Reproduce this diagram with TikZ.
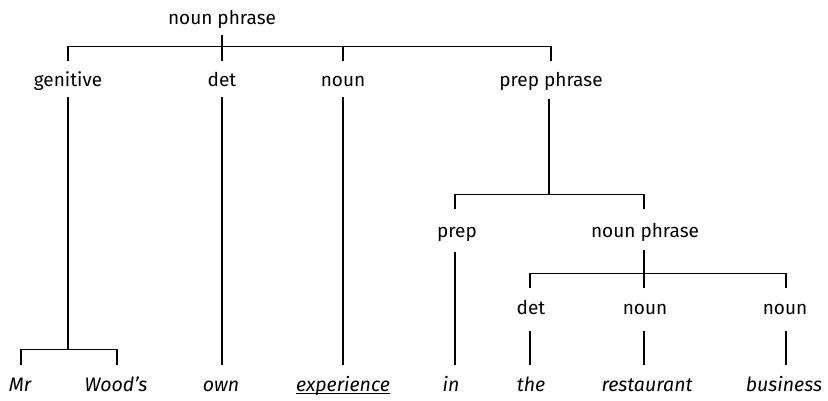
\documentclass[tikz,border=0pt]{standalone}
\usepackage{fontspec}
\setmainfont{Fira Sans}
\begin{document}
\begin{tikzpicture}[x=1pt,y=-1pt,
  lab/.style={anchor=base, inner sep=0pt, text height=13pt, text depth=4pt,
    font=\fontsize{19}{22}\selectfont},
  word/.style={lab, font=\fontsize{19.5}{22}\selectfont\itshape},
  tree/.style={line width=1.2pt, line cap=butt, line join=miter}]
\useasboundingbox (0,0) rectangle (828,401);
\fill[white] (0,0) rectangle (828,401);
% level 0
\node[lab] (np1) at (222,25) {noun phrase};
% level 1
\node[lab] (gen) at (68,87) {genitive};
\node[lab] (det1) at (222,87) {det};
\node[lab] (noun1) at (343,87) {noun};
\node[lab] (pp) at (551,87) {prep phrase};
% level 2
\node[lab] (prep) at (457,237) {prep};
\node[lab] (np2) at (645,237) {noun phrase};
% level 3
\node[lab] (det2) at (531,314) {det};
\node[lab] (noun2) at (645,314) {noun};
\node[lab] (noun3) at (785,314) {noun};
% words
\node[word] (mr) at (20,391) {Mr};
\node[word] (woods) at (116,391) {Wood’s};
\node[word] (own) at (221,391) {own};
\node[word] (exp) at (343,391) {experience};
\node[word] (in) at (451,391) {in};
\node[word] (the) at (531,391) {the};
\node[word] (rest) at (647,391) {restaurant};
\node[word] (bus) at (784,391) {business};
\draw[line width=0.8pt] ([yshift=-2pt]exp.base west) -- ([yshift=-2pt]exp.base east);
% bracket levels
\coordinate (barA) at ([yshift=27pt]det1.north);
\coordinate (dropA) at ([yshift=13pt]det1.north);
\coordinate (barG) at ([yshift=28pt]mr.north);
\coordinate (dropG) at ([yshift=13pt]mr.north);
\coordinate (barP) at ([yshift=29pt]prep.north);
\coordinate (dropP) at ([yshift=15pt]prep.north);
\coordinate (barN) at ([yshift=27pt]det2.north);
\coordinate (dropN) at ([yshift=13pt]det2.north);
% top phrase
\draw[tree, shorten <=6pt] (np1.south) -- (np1.south |- dropA);
\draw[tree] (gen.north |- dropA) |- (pp.north |- barA) -- (pp.north |- dropA);
\draw[tree] (noun1.north |- barA) -- (noun1.north |- dropA);
% genitive
\draw[tree, shorten <=6pt] (gen.south) -- (gen.south |- barG);
\draw[tree] ([xshift=1pt]mr.north |- dropG) |- ([xshift=1pt]woods.north |- barG) -- ([xshift=1pt]woods.north |- dropG);
% det, noun
\draw[tree, shorten <=6pt] (det1.south) -- (det1.south |- dropG);
\draw[tree, shorten <=6pt] (noun1.south) -- (noun1.south |- dropG);
% prep phrase
\draw[tree, shorten <=8pt] ([xshift=-2pt]pp.south) -- ([xshift=-2pt]pp.south |- barP);
\draw[tree] ([xshift=-2pt]prep.north |- dropP) |- ([xshift=-1pt]np2.north |- barP) -- ([xshift=-1pt]np2.north |- dropP);
\draw[tree, shorten <=11pt] ([xshift=-2pt]prep.south) -- ([xshift=-2pt]prep.south |- dropG);
% inner noun phrase
\draw[tree, shorten <=9pt] ([xshift=-1pt]np2.south) -- ([xshift=-1pt]np2.south |- dropN);
\draw[tree] ([xshift=-1pt]det2.north |- dropN) |- ([xshift=1pt]noun3.north |- barN) -- ([xshift=1pt]noun3.north |- dropN);
\draw[tree, shorten <=13pt] ([xshift=-1pt]det2.south) -- ([xshift=-1pt]det2.south |- dropG);
\draw[tree, shorten <=13pt] ([xshift=-1pt]noun2.south) -- ([xshift=-1pt]noun2.south |- dropG);
\draw[tree, shorten <=13pt] ([xshift=1pt]noun3.south) -- ([xshift=1pt]noun3.south |- dropG);
\end{tikzpicture}
\end{document}
